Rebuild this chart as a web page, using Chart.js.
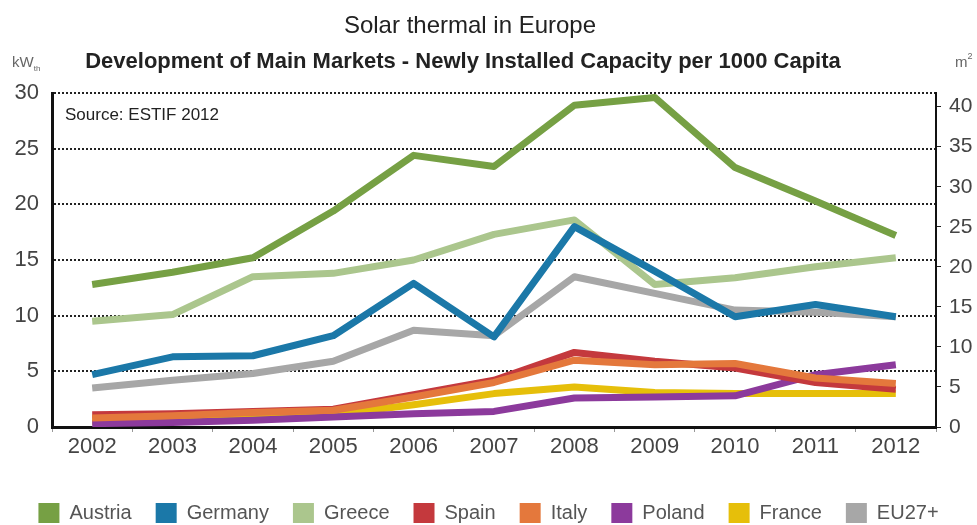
<!DOCTYPE html>
<html>
<head>
<meta charset="utf-8">
<script src="https://cdn.jsdelivr.net/npm/chart.js@4.4.1/dist/chart.umd.min.js"></script>
<style>
  html, body { margin: 0; padding: 0; background: #fff; }
  #wrap { width: 977px; height: 525px; }
</style>
</head>
<body>
<div id="wrap"><canvas id="chart"></canvas></div>
<script>
// values in kW_th per 1000 capita
const years = ['2002', '2003', '2004', '2005', '2006', '2007', '2008', '2009', '2010', '2011', '2012'];
const austria = [12.8, 13.9, 15.2, 19.4, 24.4, 23.4, 28.9, 29.6, 23.3, 20.3, 17.2];
const germany = [4.7, 6.3, 6.4, 8.2, 12.9, 8.1, 18.0, 14.0, 9.9, 11.0, 9.9];
const greece = [9.5, 10.1, 13.5, 13.8, 15.0, 17.3, 18.6, 12.8, 13.4, 14.4, 15.2];
const spain = [1.1, 1.2, 1.4, 1.6, 2.9, 4.2, 6.7, 5.9, 5.3, 4.0, 3.4];
const italy = [0.8, 1.0, 1.3, 1.5, 2.7, 4.0, 6.0, 5.6, 5.7, 4.4, 3.9];
const poland = [0.3, 0.4, 0.6, 0.9, 1.2, 1.4, 2.6, 2.7, 2.8, 4.7, 5.6];
const france = [0.5, 0.6, 0.8, 1.1, 2.0, 3.0, 3.6, 3.1, 3.0, 3.0, 3.0];
const eu27 = [3.5, 4.2, 4.8, 5.9, 8.7, 8.2, 13.5, 12.0, 10.5, 10.3, 9.9];

const leftMax = 30;
const rightMax = 41.7; // m2 scale matching 30 kW_th
const rightTicks = [0, 5, 10, 15, 20, 25, 30, 35, 40];
const tickStep = 5;

const titleText = 'Solar thermal in Europe';
const subtitleText = 'Development of Main Markets - Newly Installed Capacity per 1000 Capita';
const sourceText = 'Source: ESTIF 2012';

const regular = "'Liberation Sans', Arial, sans-serif";

function series(label, values, color, order) {
    return {
        label: label,
        data: values,
        borderColor: color,
        backgroundColor: color,
        borderWidth: 7,
        pointRadius: 0,
        tension: 0,
        borderJoinStyle: 'round',
        order: order || 0,
        yAxisID: 'y',
    };
}

const data = {
    labels: years,
    datasets: [
        series('Austria', austria, '#76a044'),
        series('Germany', germany, '#1b78a8'),
        series('Greece', greece, '#abc68d'),
        series('Spain', spain, '#c4393d', 1),
        series('Italy', italy, '#e4783c'),
        series('Poland', poland, '#8c3a9c', 1),
        series('France', france, '#e6bf0a', 1),
        series('EU27+', eu27, '#a7a7a7', 1),
    ]
};

// titles, unit labels and source note
const decor = {
    id: 'decor',
    afterLayout(chart) {
        // push legend row a little lower, like the original
        chart.legend.top += 8;
        chart.legend.bottom += 8;
    },
    afterDraw(chart) {
        const {ctx, chartArea} = chart;
        ctx.save();
        ctx.textBaseline = 'alphabetic';
        ctx.fillStyle = '#222';
        ctx.textAlign = 'center';
        ctx.font = '24px ' + regular;
        ctx.fillText(titleText, 470, 33);
        ctx.font = 'bold 22px ' + regular;
        ctx.fillText(subtitleText, 463, 68);

        ctx.textAlign = 'left';
        ctx.fillStyle = '#666';
        ctx.font = '15px ' + regular;
        ctx.fillText('kW', 12, 67);
        const kw = ctx.measureText('kW').width;
        ctx.font = '8px ' + regular;
        ctx.fillText('th', 12 + kw, 71);
        ctx.font = '15px ' + regular;
        ctx.fillText('m', 955, 67);
        const mw = ctx.measureText('m').width;
        ctx.font = '9px ' + regular;
        ctx.fillText('2', 955 + mw, 59);

        ctx.fillStyle = '#222';
        ctx.font = '17px ' + regular;
        ctx.fillText(sourceText, chartArea.left + 13, chartArea.top + 27);
        ctx.restore();
    }
};

const config = {
    type: 'line',
    data: data,
    options: {
        responsive: true,
        maintainAspectRatio: false,
        animation: false,
        layout: {
            padding: { top: 93, left: 0, right: 0, bottom: 0 }
        },
        plugins: {
            title: { display: false },
            tooltip: { enabled: false },
            legend: {
                position: 'bottom',
                labels: {
                    boxWidth: 21,
                    boxHeight: 20,
                    padding: 24,
                    color: '#555',
                    font: { family: regular, size: 20 },
                    sort: (a, b) => a.datasetIndex - b.datasetIndex,
                    generateLabels: (chart) => {
                        const items = Chart.defaults.plugins.legend.labels.generateLabels(chart);
                        items.forEach(it => { it.lineWidth = 0; });
                        return items;
                    }
                }
            }
        },
        scales: {
            x: {
                offset: true,
                afterFit: (scale) => { scale.height = 44; },
                grid: {
                    offset: true,
                    drawOnChartArea: false,
                    tickLength: 5,
                    color: '#999',
                },
                border: { color: '#111', width: 3 },
                ticks: {
                    color: '#444',
                    padding: 2,
                    font: { family: regular, size: 22 },
                },
            },
            y: {
                type: 'linear',
                position: 'left',
                min: 0,
                max: leftMax,
                afterFit: (scale) => { scale.width = 52; },
                ticks: {
                    stepSize: tickStep,
                    color: '#444',
                    padding: 13,
                    font: { family: regular, size: 22 },
                },
                grid: {
                    drawTicks: false,
                    color: '#222',
                    lineWidth: 2,
                },
                border: { color: '#111', width: 3, dash: [2, 2] },
            },
            y1: {
                type: 'linear',
                position: 'right',
                min: 0,
                max: rightMax,
                afterFit: (scale) => { scale.width = 41; },
                afterBuildTicks: (scale) => {
                    scale.ticks = rightTicks.map(v => ({ value: v }));
                },
                ticks: {
                    color: '#444',
                    padding: 8,
                    font: { family: regular, size: 21 },
                },
                grid: {
                    drawOnChartArea: false,
                    tickLength: 5,
                    color: '#222',
                },
                border: { color: '#111', width: 2 },
            },
        }
    },
    plugins: [decor]
};

const ctx = document.getElementById('chart').getContext('2d');
new Chart(ctx, config);
</script>
</body>
</html>
